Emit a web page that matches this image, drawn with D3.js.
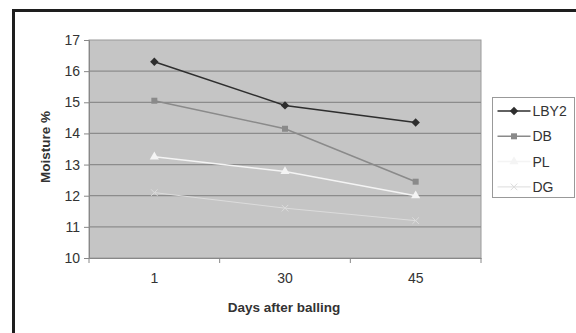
<!DOCTYPE html>
<html>
<head>
<meta charset="utf-8">
<script src="https://cdn.jsdelivr.net/npm/d3@7"></script>
<style>
  body { margin: 0; background: #fff; }
  text { font-family: Arial, "Liberation Sans", sans-serif; fill: #333; }
</style>
</head>
<body>
<script>
// data
var days = ["1", "30", "45"];
var lby2 = [16.3, 14.9, 14.35];
var db = [15.05, 14.15, 12.45];
var pl = [13.25, 12.78, 12.0];
var dg = [12.1, 11.6, 11.2];
var yTicks = [10, 11, 12, 13, 14, 15, 16, 17];

var series = [
    {name: "LBY2", values: lby2, color: "#2e2e2e", width: 1.5, symbol: d3.symbolDiamond2, size: 45, stroked: false},
    {name: "DB", values: db, color: "#8a8a8a", width: 1.5, symbol: d3.symbolSquare, size: 36, stroked: false},
    {name: "PL", values: pl, color: "#f4f4f4", width: 1.5, symbol: d3.symbolTriangle, size: 36, stroked: false},
    {name: "DG", values: dg, color: "#dcdcdc", width: 1, symbol: d3.symbolX, size: 30, stroked: true}
];

var w = 576, h = 333;
var pLeft = 89, pRight = 481, pTop = 40, pBottom = 258;

var svg = d3.select("body").append("svg")
    .attr("width", w)
    .attr("height", h);

svg.append("rect").attr("width", w).attr("height", h).attr("fill", "#fff");

// outer frame (partly cropped)
svg.append("rect")
    .attr("x", 13.5).attr("y", 10.5)
    .attr("width", 600).attr("height", 400)
    .attr("fill", "none")
    .attr("stroke", "#1e1e1e")
    .attr("stroke-width", 3);

var xScale = d3.scaleBand().domain(days).range([pLeft, pRight]);
var yScale = d3.scaleLinear().domain([10, 17]).range([pBottom, pTop]);

// plot area
svg.append("rect")
    .attr("x", pLeft).attr("y", pTop)
    .attr("width", pRight - pLeft).attr("height", pBottom - pTop)
    .attr("fill", "#c5c5c5")
    .attr("stroke", "#9a9a9a");

// gridlines
svg.selectAll(".grid")
    .data(yTicks.slice(1, -1))
    .enter()
    .append("line")
    .attr("x1", pLeft).attr("x2", pRight)
    .attr("y1", function(d) { return yScale(d); })
    .attr("y2", function(d) { return yScale(d); })
    .attr("stroke", "#8c8c8c")
    .attr("stroke-width", 1.2);

// y axis
var yAxis = svg.append("g")
    .attr("transform", "translate(" + pLeft + ",0)")
    .call(d3.axisLeft(yScale).tickValues(yTicks).tickFormat(d3.format("d")).tickSize(5).tickPadding(4));
yAxis.select(".domain").attr("stroke", "#888");
yAxis.selectAll(".tick line").attr("stroke", "#888");
yAxis.selectAll("text").attr("font-size", 14).attr("fill", "#444");

// x axis, ticks between categories
var xAxis = svg.append("g")
    .attr("transform", "translate(0," + pBottom + ")")
    .call(d3.axisBottom(xScale).tickSize(0).tickPadding(15));
xAxis.select(".domain").attr("stroke", "#888");
xAxis.selectAll("text").attr("font-size", 14).attr("fill", "#444");

var bounds = xScale.domain().map(function(d) { return xScale(d); }).concat([pRight]);
svg.selectAll(".xtick")
    .data(bounds)
    .enter()
    .append("line")
    .attr("x1", function(d) { return d; })
    .attr("x2", function(d) { return d; })
    .attr("y1", pBottom).attr("y2", pBottom + 5)
    .attr("stroke", "#888");

// axis titles
svg.append("text")
    .attr("x", (pLeft + pRight) / 2 - 1)
    .attr("y", 312)
    .attr("text-anchor", "middle")
    .attr("font-size", 13.5)
    .attr("font-weight", "bold")
    .text("Days after balling");

svg.append("text")
    .attr("transform", "translate(50," + ((pTop + pBottom) / 2 - 2) + ") rotate(-90)")
    .attr("text-anchor", "middle")
    .attr("font-size", 13.5)
    .attr("font-weight", "bold")
    .text("Moisture %");

// lines and markers
var line = d3.line()
    .x(function(d, i) { return xScale(days[i]) + xScale.bandwidth() / 2; })
    .y(function(d) { return yScale(d); });

series.slice().reverse().forEach(function(s) {
    svg.append("path")
        .datum(s.values)
        .attr("d", line)
        .attr("fill", "none")
        .attr("stroke", s.color)
        .attr("stroke-width", s.width);

    svg.selectAll(".m-" + s.name)
        .data(s.values)
        .enter()
        .append("path")
        .attr("d", d3.symbol().type(s.symbol).size(s.size))
        .attr("transform", function(d, i) {
            return "translate(" + (xScale(days[i]) + xScale.bandwidth() / 2) + "," + yScale(d) + ")";
        })
        .attr("fill", s.stroked ? "none" : s.color)
        .attr("stroke", s.stroked ? s.color : "none")
        .attr("stroke-width", 1);
});

// legend
var lg = svg.append("g").attr("transform", "translate(492.5,97.5)");
lg.append("rect")
    .attr("width", 82).attr("height", 100)
    .attr("fill", "#fff")
    .attr("stroke", "#999");

var items = lg.selectAll(".item")
    .data(series)
    .enter()
    .append("g")
    .attr("transform", function(d, i) { return "translate(0," + (13.5 + i * 25.3) + ")"; });

items.append("line")
    .attr("x1", 5).attr("x2", 38)
    .attr("stroke", function(d) { return d.color; })
    .attr("stroke-width", function(d) { return d.width; });

items.append("path")
    .attr("d", function(d) { return d3.symbol().type(d.symbol).size(d.size)(); })
    .attr("transform", "translate(21.5,0)")
    .attr("fill", function(d) { return d.stroked ? "none" : d.color; })
    .attr("stroke", function(d) { return d.stroked ? d.color : "none"; });

items.append("text")
    .attr("x", 40)
    .attr("dy", "0.35em")
    .attr("font-size", 14)
    .attr("fill", "#444")
    .text(function(d) { return d.name; });
</script>
</body>
</html>
